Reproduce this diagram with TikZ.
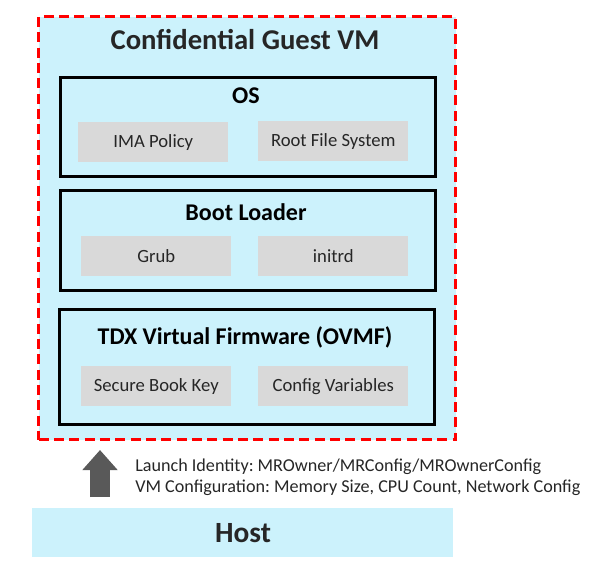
\documentclass[tikz,border=0pt]{standalone}
\usepackage{fontspec}
\setmainfont{Carlito}
\usetikzlibrary{arrows.meta}
\definecolor{guestcyan}{RGB}{204,242,252}
\definecolor{partgray}{RGB}{217,217,217}
\definecolor{dashred}{RGB}{255,0,0}
\definecolor{arrowgray}{RGB}{89,89,89}
\definecolor{textdark}{RGB}{38,38,38}
\frenchspacing

\begin{document}
\begin{tikzpicture}[
    x = 0.75pt, y = -0.75pt,
    font = \color{textdark},
    vmbox/.style = {draw=dashred, line width=2.25pt, dash pattern=on 7.5pt off 4pt,
      fill=guestcyan, anchor=north west, inner sep=0pt,
      minimum width=312.75pt, minimum height=317.25pt},
    layer/.style = {draw=black, line width=2.25pt, fill=guestcyan, anchor=north west,
      inner sep=0pt, minimum width=281.25pt},
    part/.style = {fill=partgray, anchor=north west, inner sep=0pt,
      minimum width=112.5pt, minimum height=30pt, font=\fontsize{14}{17}\selectfont\color{textdark}},
    heading/.style = {font=\fontsize{18}{21}\selectfont\bfseries\color{black}},
    launch/.style = {draw=arrowgray, line width=15pt,
      -{Triangle[width=25.5pt, length=15pt]}}
    ]
    \useasboundingbox (0,0) rectangle (599,572);
    % guest
    \node[vmbox] (vm) at (37,15) {};
    \node[font=\fontsize{21.5}{26}\selectfont\bfseries\color{textdark}] (vmtitle) at (245,40) {Confidential Guest VM};
    % os
    \node[layer, minimum height=74.25pt] (os) at (59,76) {};
    \node[heading] (ostitle) at (246,96) {OS};
    \node[part] (ima) at (78,122) {IMA Policy};
    \node[part] (rootfs) at (258,121) {Root File System};
    % boot loader
    \node[layer, minimum height=75pt] (boot) at (59,189) {};
    \node[heading] (boottitle) at (246,212) {Boot Loader};
    \node[part] (grub) at (81,236) {Grub};
    \node[part] (initrd) at (258,236) {initrd};
    % firmware
    \node[layer, minimum height=86.25pt] (tdx) at (58,308) {};
    \node[heading] (tdxtitle) at (245,337) {TDX Virtual Firmware (OVMF)};
    \node[part] (sbk) at (81,366) {Secure Book Key};
    \node[part] (cfgvars) at (258,366) {Config Variables};
    % host
    \node[fill=guestcyan, anchor=north west, inner sep=0pt,
      minimum width=315.75pt, minimum height=36.75pt] (host) at (32,508) {};
    \node[font=\fontsize{22}{26}\selectfont\bfseries\color{textdark}] (hosttitle) at (243,533) {Host};
    \coordinate (arrowfoot) at (100,497);
    \coordinate (arrowtip) at (100,450);
    \draw[launch] (arrowfoot) -- (arrowtip);
    \node[anchor=west, align=left, inner sep=0pt, font=\fontsize{13.6}{15.75}\selectfont\color{textdark}]
      (launchtext) at (135,477) {Launch Identity: MROwner/MRConfig/MROwnerConfig\\
      VM Configuration: Memory Size, CPU Count, Network Config};
\end{tikzpicture}
\end{document}
